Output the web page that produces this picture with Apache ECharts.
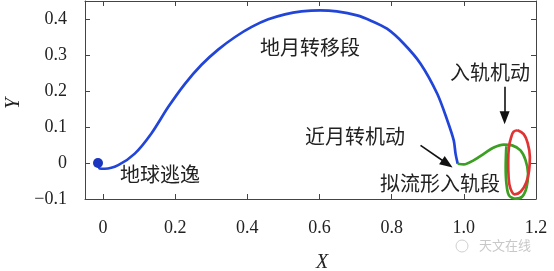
<!DOCTYPE html>
<html>
<head>
<meta charset="utf-8">
<script src="https://cdn.jsdelivr.net/npm/echarts@6/dist/echarts.min.js"></script>
<style>html,body{margin:0;padding:0;background:#fff;}#c{width:554px;height:271px;}</style>
</head>
<body>
<div id="c"></div>
<script>
// ---- data ----
var xTicks = [0, 0.2, 0.4, 0.6, 0.8, 1.0, 1.2];
var yTicks = [-0.1, 0, 0.1, 0.2, 0.3, 0.4];

var earthPoint = [[-0.014, 0.0]];

var transferX = [-0.014, -0.009, 0.005, 0.042, 0.088, 0.134, 0.181, 0.227, 0.273, 0.319, 0.366, 0.412, 0.458, 0.504, 0.550, 0.602, 0.648, 0.704, 0.741, 0.787, 0.833, 0.880, 0.926, 0.954, 0.972, 0.977, 0.983];
var transferY = [-0.002, -0.015, -0.016, -0.006, 0.026, 0.082, 0.156, 0.220, 0.273, 0.315, 0.350, 0.378, 0.399, 0.413, 0.421, 0.424, 0.421, 0.410, 0.396, 0.373, 0.332, 0.276, 0.193, 0.119, 0.063, 0.026, -0.002];

var manifoldX = [0.983, 1.000, 1.028, 1.056, 1.083, 1.111, 1.134, 1.157, 1.171, 1.178, 1.174, 1.162, 1.144, 1.125, 1.118, 1.116, 1.117, 1.118];
var manifoldY = [-0.002, -0.004, 0.008, 0.026, 0.043, 0.051, 0.049, 0.035, 0.008, -0.029, -0.067, -0.093, -0.099, -0.090, -0.057, -0.011, 0.030, 0.046];

var orbitX = [1.149, 1.166, 1.177, 1.183, 1.181, 1.173, 1.158, 1.141, 1.129, 1.124, 1.123, 1.125, 1.131, 1.138, 1.149];
var orbitY = [0.091, 0.080, 0.055, 0.017, -0.020, -0.054, -0.079, -0.087, -0.070, -0.039, 0.002, 0.044, 0.071, 0.087, 0.091];

var arrowLunar = [[0.880, 0.049], [0.954, -0.002]];
var arrowInsert = [[1.113, 0.2115], [1.113, 0.126]];

var labels = ['地球逃逸', '地月转移段', '近月转机动', '拟流形入轨段', '入轨机动'];

// ---- build ----
function zip(xs, ys) { return xs.map(function (x, i) { return [x, ys[i]]; }); }
function fmtX(v) { return v === 0 ? '0' : v.toFixed(1); }
function fmtY(v) { if (Math.abs(v) < 1e-9) return '0'; return v < 0 ? '\u2212' + Math.abs(v).toFixed(1) : v.toFixed(1); }

var axisColor = '#444';
var serif = '"Liberation Serif", "DejaVu Serif", serif';
var cjk = '"Noto Sans CJK SC", sans-serif';
var blue = '#2145d8', green = '#3c9e22', red = '#e03434';

function axisBase(extra) {
  var a = {
    type: 'value',
    axisLine: { show: true, onZero: false, lineStyle: { color: axisColor, width: 1 } },
    axisTick: { show: true, inside: true, length: 5, lineStyle: { color: axisColor } },
    splitLine: { show: false }
  };
  for (var k in extra) a[k] = extra[k];
  return a;
}

var chart = echarts.init(document.getElementById('c'), null, { renderer: 'canvas' });
var xa0 = axisBase({ min: -0.05, max: 1.2, position: 'bottom',
  axisLabel: { customValues: xTicks, formatter: fmtX, margin: 20, fontFamily: serif, fontSize: 18, color: '#222' } });
xa0.axisTick.customValues = xTicks;
var xa1 = axisBase({ min: -0.05, max: 1.2, position: 'top', axisLabel: { show: false } });
xa1.axisTick.customValues = xTicks;
var ya0 = axisBase({ min: -0.1, max: 0.45, position: 'left',
  axisLabel: { customValues: yTicks, formatter: fmtY, margin: 18, fontFamily: serif, fontSize: 18, color: '#222' } });
ya0.axisTick.customValues = yTicks;
var ya1 = axisBase({ min: -0.1, max: 0.45, position: 'right', axisLabel: { show: false } });
ya1.axisTick.customValues = yTicks;

chart.setOption({
  animation: false,
  backgroundColor: '#fff',
  grid: { left: 85, right: 18, top: 1, bottom: 72, containLabel: false },
  xAxis: [xa0, xa1],
  yAxis: [ya0, ya1],
  series: [{
    type: 'line', data: zip(transferX, transferY), showSymbol: false, smooth: 0.3,
    lineStyle: { color: blue, width: 2.7 }, z: 3,
    markLine: {
      silent: true, symbol: ['none', 'triangle'], symbolSize: [10, 13],
      lineStyle: { color: '#111', width: 1.6, type: 'solid' },
      label: { show: false },
      data: [
        [{ coord: arrowLunar[0] }, { coord: arrowLunar[1] }],
        [{ coord: arrowInsert[0] }, { coord: arrowInsert[1] }]
      ]
    }
  }, {
    type: 'line', data: zip(manifoldX, manifoldY), showSymbol: false, smooth: 0.3,
    lineStyle: { color: green, width: 2.7 }, z: 3
  }, {
    type: 'line', data: zip(orbitX, orbitY), showSymbol: false, smooth: 0.4,
    lineStyle: { color: red, width: 2.7 }, z: 4
  }, {
    type: 'scatter', data: earthPoint, symbol: 'circle', symbolSize: 10,
    itemStyle: { color: '#1a35c0', borderColor: '#1a35c0', borderWidth: 0, opacity: 1 }, z: 5
  }],
  graphic: [
    { type: 'text', left: 120, top: 164, style: { text: labels[0], font: '20px ' + cjk, fill: '#222' } },
    { type: 'text', left: 260, top: 37, style: { text: labels[1], font: '20px ' + cjk, fill: '#222' } },
    { type: 'text', left: 305, top: 126, style: { text: labels[2], font: '20px ' + cjk, fill: '#222' } },
    { type: 'text', left: 380, top: 173, style: { text: labels[3], font: '20px ' + cjk, fill: '#222' } },
    { type: 'text', left: 450, top: 62, style: { text: labels[4], font: '20px ' + cjk, fill: '#222' } },
    { type: 'text', left: 316, top: 253, style: { text: 'X', font: 'italic 20px ' + serif, fill: '#222' } },
    { type: 'text', left: 4, top: 98, rotation: Math.PI / 2, style: { text: 'Y', font: 'italic 20px ' + serif, fill: '#222' } },
    { type: 'text', left: 479, top: 239, style: { text: '天文在线', font: '13px ' + cjk, fill: '#c8c8c8' } },
    { type: 'circle', shape: { cx: 462, cy: 246, r: 6 }, style: { fill: 'none', stroke: '#d0d0d0', lineWidth: 1 } }
  ]
});
</script>
</body>
</html>
